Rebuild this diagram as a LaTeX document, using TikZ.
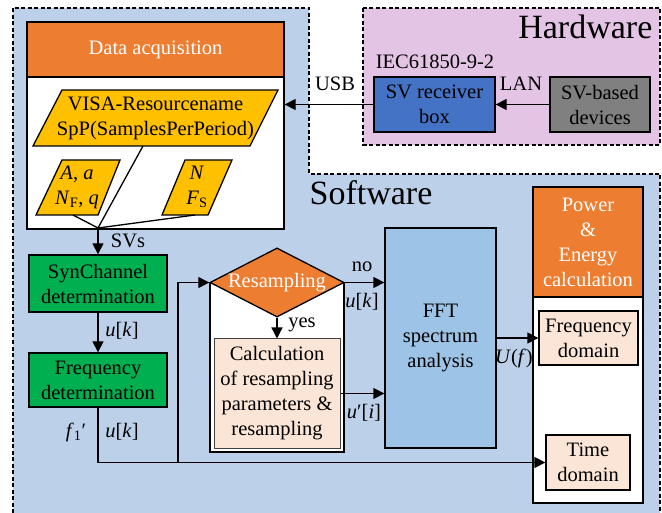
\documentclass[tikz,border=0pt]{standalone}
\usepackage{fontspec}
\setmainfont{Liberation Serif}
\usetikzlibrary{arrows.meta,shapes.geometric}
\definecolor{swblue}{RGB}{189,208,233}
\definecolor{hwpink}{RGB}{227,196,228}
\definecolor{orng}{RGB}{237,125,49}
\definecolor{yel}{RGB}{255,192,0}
\definecolor{grn}{RGB}{0,176,80}
\definecolor{rcvblue}{RGB}{68,114,196}
\definecolor{gry}{RGB}{128,128,128}
\definecolor{fftblue}{RGB}{157,195,230}
\definecolor{peach}{RGB}{251,229,214}
\begin{document}
\begin{tikzpicture}[x=1pt,y=-1pt,font=\fontsize{20.5}{25}\selectfont,line width=1.3pt,
  box/.style={draw,line width=1.3pt,inner sep=0pt,align=center},
  arr/.style={-{Triangle[length=11pt,width=11pt]},line width=1.3pt},
  lbl/.style={inner sep=0pt,align=center},
  region/.style={line width=1.4pt,dash pattern=on 4pt off 2.5pt},
  para/.style={draw,fill=yel,line width=1.3pt}]
\useasboundingbox (0,0) rectangle (662,513);
% regions
\fill[swblue] (13,8) -- (309,8) -- (309,174) -- (660,174) -- (660,513) -- (13,513) -- cycle;
\draw[region] (13,513) -- (13,8) -- (309,8) -- (309,174) -- (660,174) -- (660,513);
\draw[region,fill=hwpink] (363,8) rectangle (660,145);
\node[lbl,font=\fontsize{34}{40}\selectfont,anchor=east] (hwlbl) at (653,27) {Hardware};
\node[lbl,font=\fontsize{34}{40}\selectfont,anchor=west] (swlbl) at (309,193) {Software};
% hardware
\node[lbl] (iec) at (435,62) {IEC61850-9-2};
\node[box,fill=rcvblue,minimum width=121pt,minimum height=55pt] (rcv) at (434.5,104.5) {SV receiver\\box};
\node[box,fill=gry,minimum width=100pt,minimum height=55pt] (dev) at (600,104.5) {SV-based\\devices};
\draw[arr] (dev.west) -- (rcv.west -| rcv.east);
\node[lbl] (lan) at (521,84) {LAN};
% data acquisition
\node[box,fill=white,minimum width=257pt,minimum height=207pt] (da) at (155.5,125.5) {};
\node[box,fill=orng,text=white,minimum width=257pt,minimum height=55pt] (dah) at (155.5,49.5) {Data acquisition};
\draw[arr] (rcv.west) -- (da.east |- rcv.west);
\node[lbl] (usb) at (335,84) {USB};
\draw[para] (62,90) -- (278,90) -- (250,146) -- (33,146) -- cycle;
\node[lbl] (p1) at (155.5,118) {VISA-Resourcename\\SpP(SamplesPerPeriod)};
\draw[para] (62,160) -- (120,160) -- (98,215) -- (36,215) -- cycle;
\node[lbl] (p2) at (77,187) {\textit{A}, \textit{a}\\\textit{N}\textsubscript{F}, \textit{q}};
\draw[para] (185,160) -- (232,160) -- (208,215) -- (162,215) -- cycle;
\node[lbl] (p3) at (197,187) {\textit{N}\\\textit{F}\textsubscript{S}};
\coordinate (p1b) at (143,146);
\coordinate (p2b) at (73,215);
\coordinate (p3b) at (195,215);
\coordinate (sv) at (98,228);
\draw (p1b) -- (sv) (p2b) -- (sv) (p3b) -- (sv);
% left chain
\node[box,fill=grn,minimum width=138pt,minimum height=57pt] (syn) at (98,283.5) {SynChannel\\determination};
\node[box,fill=grn,minimum width=138pt,minimum height=54pt] (freq) at (98,380) {Frequency\\determination};
\draw[arr] (sv) -- (syn.north);
\node[lbl] (svs) at (128,241) {SVs};
\draw[arr] (syn.south) -- (freq.north);
\node[lbl] (uk1) at (122,331) {\textit{u}[\textit{k}]};
\node[lbl] (f1) at (76,432) {\textit{f}\textsubscript{1}′};
\node[lbl] (uk2) at (122,432) {\textit{u}[\textit{k}]};
% resampling
\node[box,fill=white,minimum width=134pt,minimum height=169pt] (resbg) at (277,367.5) {};
\node[draw,fill=orng,text=white,shape=diamond,aspect=1.94,inner sep=0pt,minimum width=134pt,minimum height=69pt,line width=1.3pt] (res) at (277,282.5) {Resampling};
\node[box,fill=peach,draw=black!75,line width=1pt,minimum width=126pt,minimum height=109pt] (calc) at (277,393.5) {Calculation\\of resampling\\parameters \&\\resampling};
\draw[arr] (res.south) -- (calc.north);
\node[lbl] (yes) at (302,325) {yes};
% FFT
\node[box,fill=fftblue,minimum width=111pt,minimum height=220pt] (fft) at (440.5,338) {FFT\\spectrum\\analysis};
\draw[arr] (res.east) -- (fft.west |- res.east);
\node[lbl] (no) at (362,267) {no};
\node[lbl] (uk3) at (362,302) {\textit{u}[\textit{k}]};
\draw[arr] (calc.east) -- (fft.west |- calc.east);
\node[lbl] (ui) at (364,413) {\textit{u}′[\textit{i}]};
% power
\node[box,fill=white,minimum width=110pt,minimum height=316pt] (pw) at (588,345) {};
\node[box,fill=orng,text=white,minimum width=110pt,minimum height=110pt] (pwh) at (588,242) {Power\\\&\\Energy\\calculation};
\node[box,fill=peach,minimum width=99pt,minimum height=54pt] (fd) at (588.5,338) {Frequency\\domain};
\node[box,fill=peach,minimum width=84pt,minimum height=55pt] (td) at (588,462.5) {Time\\domain};
\draw[arr] (fft.east) -- (fd.west);
\node[lbl] (uf) at (514,358) {\textit{U}(\textit{f})};
% bottom routing
\coordinate (jn) at (178,462);
\draw[arr] (freq.south) |- (td.west);
\draw[arr] (jn) |- (res.west);
\end{tikzpicture}
\end{document}
